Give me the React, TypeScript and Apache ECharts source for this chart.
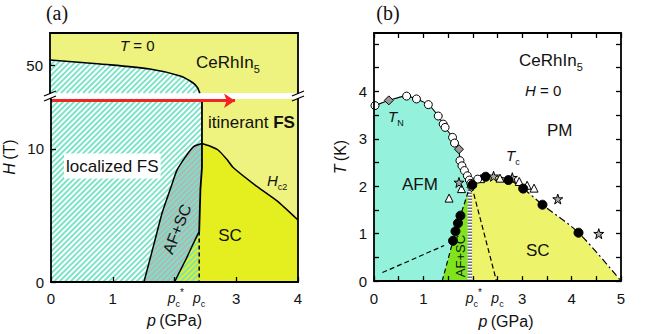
import React, { useEffect, useRef } from "react";
import * as echarts from "echarts";

const FONT = '"Liberation Sans", Arial, Helvetica, sans-serif';
const SERIF = '"Liberation Serif", "DejaVu Serif", serif';
const INK = "#111";
const PALE = "#eef27e";
const SCYEL = "#e5ee1e";
const GRAY = "#b5b5b5";
const HATCH = "#78e4c6";
const CYAN = "#93f1dc";
const GREEN = "#7fe31e";
const BYEL = "#eef36c";

// ---------------- Panel (a): H - p diagram at T = 0 ----------------
const aXTickValues = [0, 1, 2, 3, 4];
const aXLabelValues = [0, 1, 2.02, 2.4, 3, 4];
const aUpperYValues = [50];
const aLowerYValues = [0, 10];
const aUpperBoundary = [[0, 51.25], [0.81, 50.25], [1.61, 49.0], [2.1, 47.25], [2.31, 45.5], [2.38, 44.3], [2.41, 43.25], [2.42, 43]];
const aPcLine = [[2.445, 13.75], [2.445, 8.6], [2.42, 7.0], [2.4, 3.8]];
const aPcDashed = [[2.4, 3.8], [2.4, 0]];
const aDomeLeft = [[1.505, 0], [1.67, 2.9], [1.8, 5.2], [1.88, 6.3], [1.97, 7.5], [2.04, 8.4], [2.18, 9.42], [2.31, 10.17], [2.445, 10.4]];
const aHc2 = [[2.445, 10.4], [2.58, 10.2], [2.71, 9.9], [2.85, 9.2], [2.95, 8.6], [3.3, 7.3], [3.66, 6.1], [4.0, 4.66]];
const aGrayLower = [[2.4, 3.8], [2.28, 2.65], [2.18, 1.65], [2.07, 0.65], [2.0, 0]];
const aArrow = [[0, 13.62], [2.98, 13.62]];

// ---------------- Panel (b): T - p diagram at H = 0 ----------------
const bXTickValues = [0, 0.5, 1, 1.5, 2, 2.5, 3, 3.5, 4, 4.5, 5];
const bXLabelValues = [0, 1, 2.02, 2.5, 3, 4, 5];
const bYTickValues = [0, 0.5, 1, 1.5, 2, 2.5, 3, 3.5, 4, 4.5, 5];
const bYLabelValues = [0, 1, 2, 3, 4];
const bTNLine = [[0, 3.69], [0.3, 3.81], [0.66, 3.9], [0.86, 3.84], [1.1, 3.72], [1.3, 3.48], [1.44, 3.24], [1.59, 3.03], [1.63, 2.91], [1.72, 2.78], [1.74, 2.54], [1.83, 2.33], [1.89, 2.22], [1.96, 2.06]];
const bLeftBranch = [[1.38, 0], [1.6, 0.85], [1.65, 1.05], [1.7, 1.22], [1.75, 1.38], [1.85, 1.7], [1.94, 2.0]];
const bTcLine = [[1.94, 2.02], [2.05, 2.12], [2.25, 2.2], [2.5, 2.2], [2.72, 2.14], [3.02, 1.95], [3.41, 1.61], [4.14, 1.02], [5, 0]];
const bDashedLow = [[0.17, 0.18], [1.42, 0.75]];
const bDashedPc = [[1.98, 2.0], [2.48, 0]];
const bPcStar = [[1.94, 0], [1.94, 2.0]];
const bOpenCircles = [[0.02, 3.7], [0.66, 3.9], [0.86, 3.84], [1.1, 3.72], [1.3, 3.48], [1.4, 3.31], [1.44, 3.24], [1.59, 3.03], [1.63, 2.91], [1.74, 2.54], [1.78, 2.43], [1.83, 2.33], [1.89, 2.22], [1.93, 2.13], [1.96, 2.06], [2.1, 2.15]];
const bDiamonds = [[0.3, 3.81], [1.72, 2.78], [1.97, 1.98]];
const bFilled = [[1.6, 0.85], [1.65, 1.05], [1.7, 1.22], [1.75, 1.38], [1.99, 2.03], [2.26, 2.2], [2.72, 2.13], [3.02, 1.95], [3.41, 1.61], [4.14, 1.02]];
const bStars = [[1.72, 2.08], [2.42, 2.21], [2.8, 2.18], [3.72, 1.73], [4.55, 1.0]];
const bTriangles = [[1.52, 1.75], [1.77, 1.95], [2.16, 2.16], [2.55, 2.17], [2.94, 2.1], [3.1, 2.02], [3.24, 1.96]];

// layout
const A_L = 50, A_R = 298, A_TOP = 33, A_GAP_T = 93, A_GAP_B = 99, A_BOT = 282;
const B_L = 374, B_R = 621, B_TOP = 33, B_BOT = 283;

const STAR = "path://M50,2 L61,36 L97,36 L68,57 L79,92 L50,71 L21,92 L32,57 L3,36 L39,36 Z";

function hatchSegments(pts: number[][], step: number) {
  const out: number[][] = [];
  let lo = Infinity, hi = -Infinity;
  for (const [x, y] of pts) { lo = Math.min(lo, x + y); hi = Math.max(hi, x + y); }
  for (let c = Math.ceil(lo / step) * step; c <= hi; c += step) {
    const xs: number[] = [];
    for (let i = 0; i < pts.length; i++) {
      const [x1, y1] = pts[i];
      const [x2, y2] = pts[(i + 1) % pts.length];
      const f1 = x1 + y1 - c, f2 = x2 + y2 - c;
      if ((f1 < 0) !== (f2 < 0)) { const t = f1 / (f1 - f2); xs.push(x1 + t * (x2 - x1)); }
    }
    xs.sort((a, b) => a - b);
    for (let k = 0; k + 1 < xs.length; k += 2) out.push([xs[k], c - xs[k], xs[k + 1], c - xs[k + 1]]);
  }
  return out;
}

const polySeries = (pts: number[][], fill: string | null, xi: number, yi: number, hatch = false, z = 1) => ({
  type: "custom", coordinateSystem: "cartesian2d", xAxisIndex: xi, yAxisIndex: yi, z, silent: true,
  data: [[pts[0][0], pts[0][1]]],
  renderItem: (_p: any, api: any) => {
    const px = pts.map((p) => api.coord(p));
    const children: any[] = [];
    if (fill) children.push({ type: "polygon", shape: { points: px }, style: { fill } });
    if (hatch) for (const [x1, y1, x2, y2] of hatchSegments(px, 5.5)) children.push({ type: "line", shape: { x1, y1, x2, y2 }, style: { stroke: HATCH, lineWidth: 1.8 } });
    return { type: "group", children };
  },
});

const lineSeries = (data: number[][], xi: number, yi: number, style: any = {}, smooth: any = false, z = 5) => ({
  type: "line", xAxisIndex: xi, yAxisIndex: yi, data, symbol: "none", silent: true, smooth, z,
  lineStyle: { color: "#000", width: 1.5, ...style },
});

const scatterSeries = (data: number[][], symbol: string, size: number, color: string, z = 8) => ({
  type: "scatter", xAxisIndex: 2, yAxisIndex: 4, data, symbol, symbolSize: size, silent: true, z,
  itemStyle: { color, borderColor: "#000", borderWidth: 1, opacity: 1 },
});

const richFor = (size: number) => {
  const L = size + 8;
  const base = { fontFamily: FONT, fill: INK, color: INK };
  return {
    n: { ...base, fontSize: size, lineHeight: L },
    b: { ...base, fontSize: size, lineHeight: L, fontWeight: "bold" },
    i: { ...base, fontSize: size, lineHeight: L, fontStyle: "italic" },
    s: { ...base, fontSize: Math.round(size * 0.62), verticalAlign: "bottom" },
    u: { ...base, fontSize: Math.round(size * 0.66), verticalAlign: "top" },
  };
};

const txt = (x: number, y: number, text: string, size = 17, extra: any = {}) => ({
  type: "text", x, y, rotation: extra.rotation || 0, z: 100, silent: true,
  style: {
    text, fontFamily: extra.family || FONT, fontSize: size, fill: INK,
    align: extra.align || "left", verticalAlign: "middle", rich: richFor(size),
    ...(extra.bg ? { backgroundColor: extra.bg, padding: [0, 2, 0, 2] } : {}),
  },
});

const near = (a: number, b: number) => Math.abs(a - b) < 1e-6;
const pLabel = (starAt: number, pcAt: number) => (v: number) =>
  near(v, starAt) ? "{pi|p}{ps|c}{pu|*}" : near(v, pcAt) ? "{pi|p}{ps|c}" : "{n|" + String(v) + "}";

const axisLineStyle = { show: true, onZero: false, lineStyle: { color: "#000", width: 1.8 } };
const noSplit = { show: false };

function buildOption() {
  const labelRich = {
    ...richFor(15),
    pi: { fontFamily: FONT, color: INK, fontSize: 14, fontStyle: "italic", lineHeight: 21 },
    ps: { fontFamily: FONT, color: INK, fontSize: 9, verticalAlign: "bottom" },
    pu: { fontFamily: FONT, color: INK, fontSize: 10, verticalAlign: "top" },
  };
  const tickStyle = { color: "#000", width: 1.3 };

  const breaks: any[] = [];
  for (const x of [A_L, A_R]) {
    breaks.push({ type: "line", z: 100, shape: { x1: x - 6, y1: A_GAP_T + 3, x2: x + 6, y2: A_GAP_T - 2 }, style: { stroke: "#000", lineWidth: 1.3 } });
    breaks.push({ type: "line", z: 100, shape: { x1: x - 6, y1: A_GAP_B + 2, x2: x + 6, y2: A_GAP_B - 3 }, style: { stroke: "#000", lineWidth: 1.3 } });
  }

  return {
    animation: false,
    backgroundColor: "#fff",
    grid: [
      { left: A_L, top: A_TOP, width: A_R - A_L, height: A_GAP_T - A_TOP, show: true, backgroundColor: PALE, borderWidth: 0 },
      { left: A_L, top: A_GAP_B, width: A_R - A_L, height: A_BOT - A_GAP_B, show: true, backgroundColor: PALE, borderWidth: 0 },
      { left: B_L, top: B_TOP, width: B_R - B_L, height: B_BOT - B_TOP, show: false },
    ],
    xAxis: [
      { gridIndex: 0, type: "value", min: 0, max: 4, position: "top", z: 10, axisLine: axisLineStyle, axisTick: { show: false }, axisLabel: { show: false }, splitLine: noSplit },
      {
        gridIndex: 1, type: "value", min: 0, max: 4, position: "bottom", z: 10, axisLine: axisLineStyle,
        axisTick: { show: true, inside: true, length: 5, customValues: aXTickValues, lineStyle: tickStyle },
        axisLabel: { customValues: aXLabelValues, formatter: pLabel(2.02, 2.4), margin: 5, fontSize: 15, fontFamily: FONT, color: INK, rich: labelRich },
        splitLine: noSplit,
        name: "{i|p} {n|(GPa)}", nameLocation: "middle", nameGap: 24,
        nameTextStyle: { rich: richFor(16) },
      },
      {
        gridIndex: 2, type: "value", min: 0, max: 5, position: "bottom", z: 10, axisLine: axisLineStyle,
        axisTick: { show: true, inside: true, length: 5, customValues: bXTickValues, lineStyle: tickStyle },
        axisLabel: { customValues: bXLabelValues, formatter: pLabel(2.02, 2.5), margin: 6, fontSize: 15, fontFamily: FONT, color: INK, rich: labelRich },
        splitLine: noSplit,
        name: "{i|p} {n|(GPa)}", nameLocation: "middle", nameGap: 25,
        nameTextStyle: { rich: richFor(16), padding: [0, 0, 0, 17] },
      },
      {
        gridIndex: 2, type: "value", min: 0, max: 5, position: "top", z: 10, axisLine: axisLineStyle,
        axisTick: { show: true, inside: true, length: 5, customValues: bXTickValues, lineStyle: tickStyle },
        axisLabel: { show: false }, splitLine: noSplit,
      },
    ],
    yAxis: [
      {
        gridIndex: 0, type: "value", min: 43, max: 58, position: "left", z: 10, axisLine: axisLineStyle,
        axisTick: { show: true, inside: true, length: 5, customValues: aUpperYValues, lineStyle: tickStyle },
        axisLabel: { customValues: aUpperYValues, margin: 7, fontSize: 15, fontFamily: FONT, color: INK },
        splitLine: noSplit,
      },
      { gridIndex: 0, type: "value", min: 43, max: 58, position: "right", z: 10, axisLine: axisLineStyle, axisTick: { show: false }, axisLabel: { show: false }, splitLine: noSplit },
      {
        gridIndex: 1, type: "value", min: 0, max: 13.75, position: "left", z: 10, axisLine: axisLineStyle,
        axisTick: { show: true, inside: true, length: 5, customValues: aLowerYValues, lineStyle: tickStyle },
        axisLabel: { customValues: aLowerYValues, margin: 7, fontSize: 15, fontFamily: FONT, color: INK },
        splitLine: noSplit,
        name: "{i|H} {n|(T)}", nameLocation: "middle", nameGap: 30,
        nameTextStyle: { rich: richFor(16), padding: [0, 0, 0, 67] },
      },
      { gridIndex: 1, type: "value", min: 0, max: 13.75, position: "right", z: 10, axisLine: axisLineStyle, axisTick: { show: false }, axisLabel: { show: false }, splitLine: noSplit },
      {
        gridIndex: 2, type: "value", min: 0, max: 5.23, position: "left", z: 10, axisLine: axisLineStyle,
        axisTick: { show: true, inside: true, length: 5, customValues: bYTickValues, lineStyle: tickStyle },
        axisLabel: { customValues: bYLabelValues, margin: 7, fontSize: 15, fontFamily: FONT, color: INK },
        splitLine: noSplit,
        name: "{i|T} {n|(K)}", nameLocation: "middle", nameGap: 22,
        nameTextStyle: { rich: richFor(16) },
      },
      {
        gridIndex: 2, type: "value", min: 0, max: 5.23, position: "right", z: 10, axisLine: axisLineStyle,
        axisTick: { show: true, inside: true, length: 5, customValues: bYTickValues, lineStyle: tickStyle },
        axisLabel: { show: false }, splitLine: noSplit,
      },
    ],
    series: [
      // panel (a) upper part
      polySeries([[0, 43], ...aUpperBoundary], "#ffffff", 0, 0, true, 1),
      lineSeries(aUpperBoundary, 0, 0, { width: 1.6 }, 0.3),
      // panel (a) lower part
      polySeries([[0, 0], [2.4, 0], ...aPcLine.slice().reverse(), [0, 13.75]], "#ffffff", 1, 2, false, 1),
      polySeries([...aDomeLeft, ...aHc2.slice(1), [4, 0]], SCYEL, 1, 2, false, 2),
      polySeries([...aDomeLeft, [2.445, 8.6], [2.42, 7.0], ...aGrayLower], GRAY, 1, 2, false, 3),
      polySeries([[0, 0], [2.4, 0], ...aPcLine.slice().reverse(), [0, 13.75]], null, 1, 2, true, 4),
      lineSeries(aPcLine, 1, 2, { width: 1.8 }),
      lineSeries(aPcDashed, 1, 2, { width: 1.5, type: [4, 3] }),
      lineSeries(aDomeLeft, 1, 2, { width: 1.5 }, 0.2),
      lineSeries(aHc2, 1, 2, { width: 1.5 }, 0.2),
      lineSeries(aGrayLower, 1, 2, { width: 1.5 }, 0.2),
      {
        type: "lines", coordinateSystem: "cartesian2d", xAxisIndex: 1, yAxisIndex: 2, z: 9, silent: true, clip: false,
        symbol: ["none", "arrow"], symbolSize: [0, 11],
        lineStyle: { color: "#f42424", width: 3, opacity: 1 },
        data: [{ coords: aArrow }],
      },
      // panel (b)
      polySeries([[0, 0], ...bTNLine, ...bLeftBranch.slice().reverse()], CYAN, 2, 4, false, 1),
      polySeries([...bLeftBranch, [1.94, 0]], GREEN, 2, 4, false, 1),
      polySeries([[1.94, 0], ...bTcLine], BYEL, 2, 4, false, 1),
      lineSeries(bPcStar, 2, 4, { color: "#ffffff", width: 4.5 }, false, 4),
      lineSeries(bPcStar, 2, 4, { color: "#6e6e6e", width: 4.5, type: [1.5, 1.5] }, false, 4),
      lineSeries(bTNLine, 2, 4, { width: 1.1 }, 0.3),
      lineSeries(bLeftBranch, 2, 4, { width: 1.2, type: [5, 3] }),
      lineSeries(bTcLine, 2, 4, { width: 1.2, type: [7, 3, 2, 3] }, 0.3),
      lineSeries(bDashedLow, 2, 4, { width: 1.2, type: [5, 3] }),
      lineSeries(bDashedPc, 2, 4, { width: 1.2, type: [5, 3] }),
      scatterSeries(bTriangles, "triangle", 8, "#ffffff"),
      scatterSeries(bOpenCircles, "circle", 8, "#ffffff"),
      scatterSeries(bDiamonds, "diamond", 9, "#9a9a9a"),
      scatterSeries(bStars, STAR, 10, "#a8a8a8"),
      scatterSeries(bFilled, "circle", 9, "#000000", 9),
    ],
    graphic: [
      txt(57, 13, "(a)", 20, { family: SERIF, align: "center" }),
      txt(388, 13, "(b)", 20, { family: SERIF, align: "center" }),
      txt(120, 45, "{i|T}{n| = 0}", 15),
      txt(196, 62, "{n|CeRhIn}{s|5}", 17),
      txt(208, 122, "{n|itinerant }{b|FS}", 17),
      txt(64, 166, "{n|localized FS}", 17, { bg: "#ffffff" }),
      txt(177, 229, "{n|AF+SC}", 16, { align: "center", rotation: 1.19 }),
      txt(230, 235, "{n|SC}", 17, { align: "center" }),
      txt(267, 180, "{i|H}{s|c2}", 15),
      ...breaks,
      txt(519, 60, "{n|CeRhIn}{s|5}", 17),
      txt(525, 90, "{i|H}{n| = 0}", 15),
      txt(547, 130, "{n|PM}", 17),
      txt(388, 116, "{i|T}{s|N}", 15),
      txt(506, 155, "{i|T}{s|c}", 15),
      txt(402, 184, "{n|AFM}", 17),
      txt(526, 250, "{n|SC}", 17),
      txt(460, 256, "{n|AF+SC}", 13, { align: "center", rotation: Math.PI / 2 }),
    ],
  };
}

export default function App() {
  const ref = useRef<HTMLDivElement>(null);
  useEffect(() => {
    if (!ref.current) return;
    const chart = echarts.init(ref.current, undefined, { renderer: "svg" });
    chart.setOption(buildOption() as any);
    return () => chart.dispose();
  }, []);
  return <div ref={ref} style={{ position: "fixed", left: 0, top: 0, width: 664, height: 334 }} />;
}
